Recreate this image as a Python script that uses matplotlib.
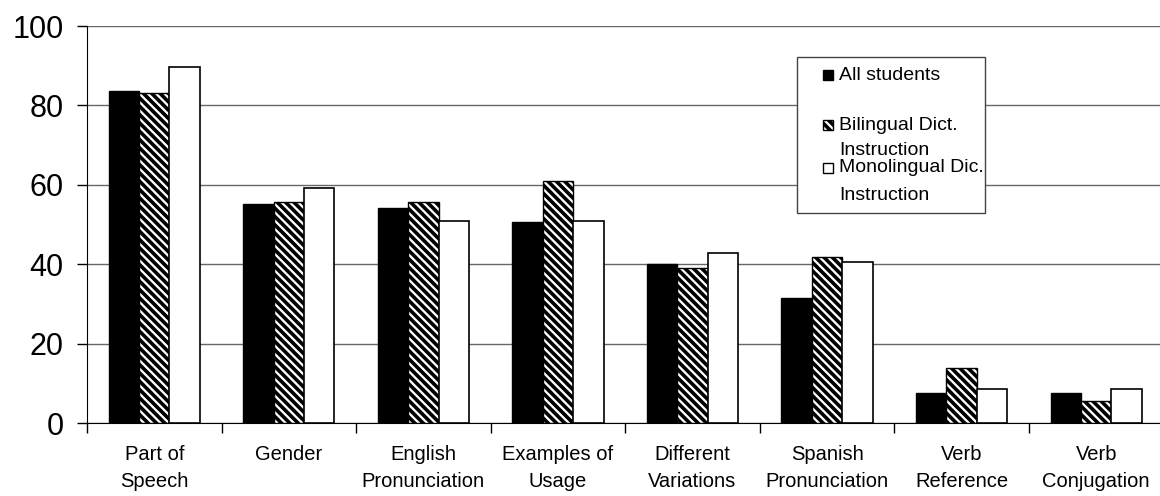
import numpy as np
import matplotlib.pyplot as plt
from matplotlib.patches import Rectangle

plt.rcParams["font.family"] = ["Liberation Sans", "DejaVu Sans"]
plt.rcParams["hatch.linewidth"] = 2.6

categories = ["Part of\nSpeech", "Gender", "English\nPronunciation", "Examples of\nUsage",
              "Different\nVariations", "Spanish\nPronunciation", "Verb\nReference", "Verb\nConjugation"]
all_students = [83.7, 55.3, 54.3, 50.6, 40.0, 31.6, 7.5, 7.5]
bilingual = [83.2, 55.6, 55.6, 61.0, 39.0, 41.8, 14.0, 5.6]
monolingual = [89.7, 59.3, 50.9, 50.9, 42.9, 40.7, 8.5, 8.5]
series_labels = ["All students", "Bilingual Dict.\nInstruction", "Monolingual Dic.\nInstruction"]

W, H = 1160, 496
fig = plt.figure(figsize=(W / 100, H / 100), dpi=100)
ax = fig.add_axes([0.075, 0.147, 0.928, 0.8004])

x = np.arange(len(categories))
w = 0.226
ax.bar(x - w, all_students, w, color="black", edgecolor="black", lw=1, zorder=3)
ax.bar(x, bilingual, w, color="white", edgecolor="black", hatch="\\\\\\\\", lw=1, zorder=3)
ax.bar(x + w, monolingual, w, color="white", edgecolor="black", lw=1.2, zorder=3)

ax.set_xlim(-0.5, len(categories) - 0.5)
ax.set_ylim(0, 100)
ax.set_yticks([0, 20, 40, 60, 80, 100])
ax.tick_params(axis="y", labelsize=22, length=7, width=1, pad=10)
ax.yaxis.grid(True, color="#666666", lw=1, zorder=0)

ax.set_xticks(np.arange(len(categories) + 1) - 0.5)
ax.set_xticklabels([])
ax.set_xticks(x, minor=True)
ax.set_xticklabels(categories, minor=True, fontsize=14.5, linespacing=1.5)
ax.tick_params(axis="x", which="major", length=7, width=1)
ax.tick_params(axis="x", which="minor", length=0, pad=16)

for s in ["top", "right"]:
    ax.spines[s].set_visible(False)


# legend box drawn by hand (Excel-style spacing), pixel positions
def fx(px):
    return px / W


def fy(py):
    return 1 - py / H


fig.patches.append(Rectangle((fx(797), fy(213)), fx(188), 156 / H, transform=fig.transFigure,
                             facecolor="white", edgecolor="#444444", lw=1, zorder=5))
handles = [dict(fc="black", hatch=None), dict(fc="white", hatch="\\\\\\\\"), dict(fc="white", hatch=None)]
handle_y = [75, 125, 168]
for hs, hy in zip(handles, handle_y):
    fig.patches.append(Rectangle((fx(823), fy(hy + 5)), fx(10), 10 / H, transform=fig.transFigure,
                                 facecolor=hs["fc"], edgecolor="black", hatch=hs["hatch"], lw=1, zorder=6))
text_rows = [(series_labels[0], 75), ("Bilingual Dict.", 125), ("Instruction", 150),
             ("Monolingual Dic.", 168), ("Instruction", 196)]
for txt, ty in text_rows:
    fig.text(fx(839), fy(ty), txt, fontsize=14, ha="left", va="center", zorder=7)

fig.savefig("out.png", dpi=100)
